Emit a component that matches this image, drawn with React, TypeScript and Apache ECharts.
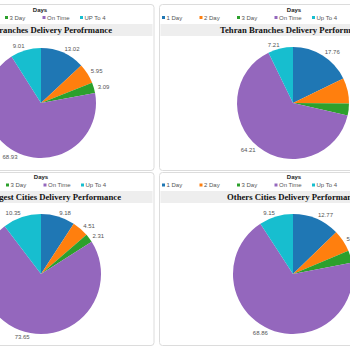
import React, { useEffect, useRef } from 'react';
import * as echarts from 'echarts';

const categories = ['1 Day', '2 Day', '3 Day', 'On Time', 'Up To 4'];
const topLeftLegendLabels = ['1 Day', '2 Day', '3 Day', 'On Time', 'UP To 4'];
const colors = ['#1f77b4', '#ff7f0e', '#2ca02c', '#9467bd', '#17becf'];
const legendTitle = 'Days';

const allBranches = [13.02, 5.95, 3.09, 68.93, 9.01];
const tehranBranches = [17.76, 7.35, 3.47, 64.21, 7.21];
const biggestCities = [9.18, 4.51, 2.31, 73.65, 10.35];
const otherCities = [12.77, 5.93, 3.29, 68.86, 9.15];

const titles = [
  'All Branches Delivery Perofrmance',
  'Tehran Branches Delivery Performance',
  'Biggest Cities Delivery Performance',
  'Others Cities Delivery Performance',
];

const datasets = [allBranches, tehranBranches, biggestCities, otherCities];
const legendLabelSets = [topLeftLegendLabels, categories, categories, categories];

// layout only
const panels = [
  { px: -10, py: 4.5, pw: 164, ph: 166, bandY: 24, legendX: -70, legendY: 17.5, daysX: 40, daysY: 10, titleX: 112, titleAlign: 'right', titleY: 30, cx: 41, cy: 103, r: 55 },
  { px: 159.5, py: 4.5, pw: 200, ph: 166, bandY: 24, legendX: 162, legendY: 17.5, daysX: 294, daysY: 10, titleX: 220, titleAlign: 'left', titleY: 30, cx: 293, cy: 103, r: 56 },
  { px: -10, py: 172.5, pw: 164, ph: 173, bandY: 191, legendX: -69, legendY: 185, daysX: 41, daysY: 177, titleX: 121, titleAlign: 'right', titleY: 197, cx: 41, cy: 274, r: 60 },
  { px: 159.5, py: 172.5, pw: 200, ph: 173, bandY: 191, legendX: 162, legendY: 185, daysX: 294, daysY: 177, titleX: 227, titleAlign: 'left', titleY: 197, cx: 293, cy: 274, r: 60 },
];

const SANS = '"Liberation Sans", Arial, sans-serif';
const SERIF = '"Liberation Serif", "Times New Roman", serif';

export default function App() {
  const ref = useRef<HTMLDivElement>(null);
  useEffect(() => {
    const chart = echarts.init(ref.current!, null, { renderer: 'svg' });
    const graphics: any[] = [];
    panels.forEach((p, i) => {
      graphics.push({
        type: 'rect', z: 0,
        shape: { x: p.px, y: p.py, width: p.pw, height: p.ph, r: 3 },
        style: { fill: '#ffffff', stroke: '#dcdcdc', lineWidth: 1 },
      });
      graphics.push({
        type: 'rect', z: 1,
        shape: { x: p.px + 1, y: p.bandY, width: p.pw - 2.5, height: 12 },
        style: { fill: '#eeeeee' },
      });
      graphics.push({
        type: 'text', z: 5, x: p.daysX, y: p.daysY,
        style: { text: legendTitle, fontSize: 6, fontWeight: 'bold', fontFamily: SANS, fill: '#222', align: 'center', verticalAlign: 'middle' },
      });
      legendLabelSets[i].forEach((lab, k) => {
        const x = p.legendX + k * 37.5;
        graphics.push({
          type: 'rect', z: 5,
          shape: { x: x, y: p.legendY - 1.5, width: 3, height: 3 },
          style: { fill: colors[k] },
        });
        graphics.push({
          type: 'text', z: 5, x: x + 4.5, y: p.legendY,
          style: { text: lab, fontSize: 6, fontFamily: SANS, fill: '#555', align: 'left', verticalAlign: 'middle' },
        });
      });
      graphics.push({
        type: 'text', z: 5, x: p.titleX, y: p.titleY,
        style: { text: titles[i], fontSize: 8.7, fontWeight: 'bold', fontFamily: SERIF, fill: '#111', align: p.titleAlign, verticalAlign: 'middle' },
      });
    });

    const option: any = {
      animation: false,
      backgroundColor: '#ffffff',
      graphic: { elements: graphics },
      series: panels.map((p, i) => ({
        type: 'pie',
        z: 10,
        center: [p.cx, p.cy],
        radius: p.r,
        startAngle: 90,
        clockwise: true,
        avoidLabelOverlap: false,
        silent: true,
        emphasis: { disabled: true },
        itemStyle: { borderWidth: 0 },
        label: {
          show: true,
          position: 'outside',
          formatter: '{c}',
          fontSize: 6,
          fontFamily: SANS,
          color: '#555',
          distanceToLabelLine: 0,
        },
        labelLine: { show: false, length: 4, length2: 0 },
        data: categories.map((c, k) => ({ name: c, value: datasets[i][k], itemStyle: { color: colors[k] } })),
      })),
    };
    chart.setOption(option);
    return () => chart.dispose();
  }, []);
  return <div ref={ref} style={{ position: 'fixed', left: 0, top: 0, width: 350, height: 350, background: '#fff' }} />;
}
